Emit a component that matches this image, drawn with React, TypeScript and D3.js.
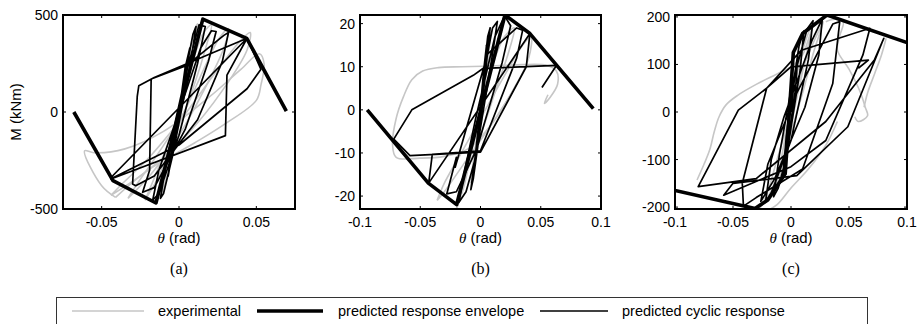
import React from 'react';
import * as d3 from 'd3';

type P = [number, number];

// ---------- axis data ----------
const panelLabels = ['(a)', '(b)', '(c)'];
const xDomainA = [-0.075, 0.075];
const xDomainB = [-0.1, 0.1];
const xDomainC = [-0.1, 0.1];
const yDomainA = [-500, 500];
const yDomainB = [-23, 22];
const yDomainC = [-204, 204];
const xTicksA = [-0.05, 0, 0.05];
const xTicksB = [-0.1, -0.05, 0, 0.05, 0.1];
const xTicksC = [-0.1, -0.05, 0, 0.05, 0.1];
const yTicksA = [-500, 0, 500];
const yTicksB = [-20, -10, 0, 10, 20];
const yTicksC = [-200, -100, 0, 100, 200];
const legendLabels = ['experimental', 'predicted response envelope', 'predicted cyclic response'];

// ---------- panel (a) ----------
const envA: P[] = [[-0.068, 0], [-0.0427, -354], [-0.0149, -469], [0.0154, 479], [0.0438, 380], [0.0694, 5]];
const cycA: P[] = [
  [0, 0], [0.004, 230], [0.007, 330], [0.005, 200], [-0.003, -150], [-0.007, -330], [-0.005, -200], [0.003, 150],
  [0.009, 400], [0.011, 440], [0.007, 230], [-0.004, -220], [-0.010, -420], [-0.012, -445], [-0.008, -250], [0.004, 180],
  [0.013, 450], [0.017, 440], [0.012, 250], [0.0, -120], [-0.013, -420], [-0.017, -455], [-0.013, -300], [0.0, 0],
  [0.014, 330], [0.021, 419], [0.024, 415], [0.019, 260], [0.004, -90], [-0.016, -390], [-0.0235, -414], [-0.019, -300], [-0.018, 170],
  [0.005, 240], [0.029, 395], [0.032, 410], [0.028, 260], [0.012, -40], [-0.016, -330], [-0.028, -380], [-0.030, -371], [-0.027, 80], [-0.026, 135], [-0.016, 178], [0.044, 380],
  [-0.043, -330], [-0.044, -345], [0.030, -122], [0.031, 190], [0.044, 380],
  [0.053, 220], [0.044, 120], [0.0, -170], [-0.043, -340],
];
const expA1: P[] = [[-0.012, -430], [-0.007, -280], [0.0, -20], [0.006, 260], [0.010, 420], [0.012, 455], [0.009, 330], [0.003, 90], [-0.004, -170], [-0.009, -370], [-0.012, -430]];
const expA2: P[] = [[-0.022, -455], [-0.017, -360], [-0.008, -180], [0.002, 60], [0.010, 290], [0.016, 410], [0.021, 450], [0.018, 350], [0.009, 120], [-0.003, -130], [-0.013, -330], [-0.022, -455]];
const expA3: P[] = [[-0.033, -445], [-0.027, -370], [-0.014, -220], [0.002, -20], [0.016, 220], [0.026, 380], [0.032, 430], [0.029, 330], [0.016, 110], [0.0, -120], [-0.018, -320], [-0.033, -445]];
const expA4: P[] = [[-0.044, -430], [-0.038, -380], [-0.02, -240], [0.004, -10], [0.026, 230], [0.040, 370], [0.046, 410], [0.044, 320], [0.028, 110], [0.006, -110], [-0.02, -300], [-0.044, -430]];
const expA5: P[] = [[-0.041, -440], [-0.05, -380], [-0.061, -200], [-0.055, -210], [-0.035, -190], [-0.01, -100], [0.02, 80], [0.04, 220], [0.052, 300], [0.055, 250], [0.053, 140], [0.050, 60], [0.03, -60], [0.01, -160], [-0.02, -300], [-0.041, -440]];

// ---------- panel (b) ----------
const envB: P[] = [[-0.094, 0], [-0.0433, -17], [-0.0198, -22], [0.0203, 22], [0.041, 17.7], [0.0936, 0.3]];
const cycB: P[] = [
  [0, 0], [0.003, 10], [0.005, 15], [0.003, 8], [-0.002, -6], [-0.004, -12], [-0.002, -5], [0.002, 7],
  [0.006, 17], [0.008, 19], [0.005, 11], [-0.002, -8], [-0.006, -16], [-0.008, -18.5], [-0.004, -10], [0.003, 9],
  [0.010, 19], [0.014, 20.5], [0.010, 13], [-0.004, -11], [-0.012, -19], [-0.018, -21.5], [-0.013, -14], [-0.004, -2],
  [0.012, 17], [0.020, 21.8], [0.025, 19.5], [0.018, 11], [-0.003, -9], [-0.020, -19], [-0.028, -19.5], [-0.020, -11], [-0.021, -13.3],
  [0.006, 13], [0.030, 19], [0.035, 18.5], [0.030, 12], [0.0, -9.5], [-0.040, -10.3], [-0.043, -17], [0.041, 17.7], [0.038, 10],
  [0.0, -9.8], [-0.0585, -10.6], [-0.072, -6.8], [-0.057, 0], [-0.006, 8], [0.002, 9.6], [0.063, 10.3], [0.051, 5.2],
];
const expB1: P[] = [[-0.008, -17], [-0.004, -8], [0.0, 0], [0.004, 9], [0.008, 16], [0.006, 11], [0.002, 3], [-0.002, -5], [-0.006, -12], [-0.008, -17]];
const expB2: P[] = [[-0.02, -23], [-0.014, -18], [-0.006, -8], [0.004, 4], [0.012, 12], [0.02, 17], [0.028, 19], [0.024, 14], [0.012, 4], [0.0, -6], [-0.012, -15], [-0.02, -23]];
const expB3: P[] = [[-0.036, -21], [-0.03, -17], [-0.018, -11], [0.0, -2], [0.02, 8], [0.035, 15], [0.042, 17], [0.04, 12], [0.028, 5], [0.01, -3], [-0.015, -13], [-0.03, -19], [-0.036, -21]];
const expB4: P[] = [[0.03, 6], [0.01, -3], [-0.01, -9], [-0.03, -10.8], [-0.05, -11.2], [-0.07, -11], [-0.073, -8], [-0.07, -2], [-0.064, 3], [-0.057, 7], [-0.048, 9], [-0.035, 9.8], [-0.015, 10], [0.01, 10.2], [0.035, 10.5], [0.055, 10.3], [0.063, 9], [0.064, 6], [0.058, 3], [0.053, 1.5], [0.056, 3.5]];

// ---------- panel (c) ----------
const envC: P[] = [[-0.1, -165], [-0.031, -203], [-0.02, -185], [-0.005, -130], [0.002, 125], [0.01, 165], [0.031, 204], [0.1, 146]];
const cycC: P[] = [
  [0, 0], [0.003, 70], [0.006, 125], [0.004, 50], [-0.003, -70], [-0.007, -135], [-0.004, -50], [0.002, 60],
  [0.007, 140], [0.011, 170], [0.008, 90], [-0.004, -95], [-0.011, -160], [-0.015, -178], [-0.010, -90], [0.001, 60],
  [0.014, 175], [0.019, 192], [0.015, 110], [0.0, -60], [-0.017, -170], [-0.022, -190], [-0.017, -100], [-0.006, -10],
  [0.018, 150], [0.027, 196], [0.024, 120], [0.012, 10], [-0.014, -140], [-0.026, -188], [-0.020, -110],
  [0.005, 40], [0.036, 185], [0.042, 190], [0.036, 60], [0.010, -120], [-0.030, -180], [-0.041, -198], [-0.042, -150], [-0.021, 50],
  [0.009, 130], [0.068, 176], [0.062, 120], [0.030, -60], [0.0, -115], [-0.058, -175], [-0.050, -150], [0.005, -134], [0.049, -31], [0.080, 155], [0.072, 110], [0.030, -20], [-0.030, -140],
  [-0.080, -157], [-0.0454, 4], [-0.021, 50], [0.0, 95], [0.0667, 109], [0.058, 92],
];
const expC1: P[] = [[-0.015, -180], [-0.01, -120], [-0.004, -40], [0.002, 40], [0.008, 110], [0.014, 160], [0.018, 180], [0.014, 130], [0.006, 40], [-0.002, -50], [-0.01, -140], [-0.015, -180]];
const expC2: P[] = [[-0.028, -205], [-0.022, -180], [-0.012, -100], [0.0, 0], [0.01, 90], [0.02, 150], [0.026, 180], [0.028, 190], [0.02, 130], [0.01, 40], [-0.005, -80], [-0.018, -170], [-0.028, -205]];
const expC3: P[] = [[-0.081, -143], [-0.075, -110], [-0.07, -79], [-0.066, -40], [-0.062, -10], [-0.056, 15], [-0.046, 35], [-0.03, 58], [-0.012, 80], [0.002, 98], [0.01, 120], [0.016, 160], [0.02, 185], [0.025, 190]];
const expC4: P[] = [[0.03, 190], [0.038, 195], [0.045, 190], [0.042, 160], [0.04, 130], [0.05, 90], [0.06, 40], [0.064, 10], [0.066, -8], [0.058, -20], [0.055, -10]];
const expC5: P[] = [[0.082, 155], [0.078, 120], [0.072, 80], [0.066, 40], [0.063, 10]];
const expC6: P[] = [[0.04, -20], [0.03, -70], [0.015, -120], [0.0, -160], [-0.012, -195], [-0.02, -207]];

const expA = [expA1, expA2, expA3, expA4, expA5];
const expB = [expB1, expB2, expB3, expB4];
const expC = [expC1, expC2, expC3, expC4, expC5, expC6];

// ---------- layout ----------
const W = 923;
const H = 324;
const TOP = 15;
const BOTTOM = 209;
const SANS = '"Liberation Sans", Arial, Helvetica, sans-serif';
const SERIF = '"Liberation Serif", "Times New Roman", serif';

const panels = [
  { xDomain: xDomainA, yDomain: yDomainA, xTicks: xTicksA, yTicks: yTicksA, exp: expA, cyc: cycA, env: envA, left: 63, right: 295, ylab: true },
  { xDomain: xDomainB, yDomain: yDomainB, xTicks: xTicksB, yTicks: yTicksB, exp: expB, cyc: cycB, env: envB, left: 360, right: 601, ylab: false },
  { xDomain: xDomainC, yDomain: yDomainC, xTicks: xTicksC, yTicks: yTicksC, exp: expC, cyc: cycC, env: envC, left: 675, right: 907, ylab: false },
];

function Panel({ cfg, idx }: { cfg: typeof panels[number]; idx: number }) {
  const x = d3.scaleLinear().domain(cfg.xDomain).range([cfg.left, cfg.right]);
  const y = d3.scaleLinear().domain(cfg.yDomain).range([BOTTOM, TOP]);
  const lin = d3.line<P>().x((d) => x(d[0])).y((d) => y(d[1]));
  const smooth = d3.line<P>().x((d) => x(d[0])).y((d) => y(d[1])).curve(d3.curveCatmullRom.alpha(0.5));
  const cid = `clip${idx}`;
  const tl = 3;
  const cx = (cfg.left + cfg.right) / 2;
  return (
    <g>
      <defs>
        <clipPath id={cid}>
          <rect x={cfg.left} y={TOP} width={cfg.right - cfg.left} height={BOTTOM - TOP} />
        </clipPath>
      </defs>
      <g clipPath={`url(#${cid})`}>
        {cfg.exp.map((l, i) => (
          <path key={i} d={smooth(l) || ''} fill="none" stroke="#c6c6c6" strokeWidth={1.6} strokeLinejoin="round" />
        ))}
        <path d={lin(cfg.cyc) || ''} fill="none" stroke="#000" strokeWidth={1.7} strokeLinejoin="round" />
        <path d={lin(cfg.env) || ''} fill="none" stroke="#000" strokeWidth={3.6} strokeLinejoin="round" />
      </g>
      <rect x={cfg.left} y={TOP} width={cfg.right - cfg.left} height={BOTTOM - TOP} fill="none" stroke="#000" strokeWidth={2} />
      {cfg.xTicks.map((t) => (
        <g key={'x' + t}>
          <line x1={x(t)} x2={x(t)} y1={BOTTOM} y2={BOTTOM - tl} stroke="#000" strokeWidth={1} />
          <line x1={x(t)} x2={x(t)} y1={TOP} y2={TOP + tl} stroke="#000" strokeWidth={1} />
          <text x={x(t)} y={227} textAnchor="middle" fontFamily={SANS} fontSize={14}>{String(t)}</text>
        </g>
      ))}
      {cfg.yTicks.map((t) => (
        <g key={'y' + t}>
          <line x1={cfg.left} x2={cfg.left + tl} y1={y(t)} y2={y(t)} stroke="#000" strokeWidth={1} />
          <line x1={cfg.right} x2={cfg.right - tl} y1={y(t)} y2={y(t)} stroke="#000" strokeWidth={1} />
          <text x={cfg.left - 5} y={y(t) + 5} textAnchor="end" fontFamily={SANS} fontSize={14}>{String(t)}</text>
        </g>
      ))}
      <text x={cx} y={243} textAnchor="middle" fontFamily={SANS} fontSize={15}>
        <tspan fontFamily={SERIF} fontStyle="italic">θ</tspan> (rad)
      </text>
      <text x={cx} y={274} textAnchor="middle" fontFamily={SERIF} fontSize={16}>{panelLabels[idx]}</text>
      {cfg.ylab && (
        <text transform={`translate(21,${(TOP + BOTTOM) / 2}) rotate(-90)`} textAnchor="middle" fontFamily={SANS} fontSize={15}>M (kNm)</text>
      )}
    </g>
  );
}

export default function App() {
  const ly = 311;
  return (
    <svg width={W} height={H} style={{ position: 'absolute', left: 0, top: 0, background: '#fff' }}>
      {panels.map((p, i) => (
        <Panel key={i} cfg={p} idx={i} />
      ))}
      <rect x={56.5} y={297.5} width={811} height={40} fill="none" stroke="#333" strokeWidth={1} />
      <line x1={72} x2={144} y1={ly} y2={ly} stroke="#c6c6c6" strokeWidth={1.6} />
      <text x={158} y={ly + 5} fontFamily={SANS} fontSize={14.5}>{legendLabels[0]}</text>
      <line x1={257} x2={323} y1={ly} y2={ly} stroke="#000" strokeWidth={3.6} />
      <text x={338} y={ly + 5} fontFamily={SANS} fontSize={14.5}>{legendLabels[1]}</text>
      <line x1={540} x2={608} y1={ly} y2={ly} stroke="#000" strokeWidth={1.7} />
      <text x={622} y={ly + 5} fontFamily={SANS} fontSize={14.5}>{legendLabels[2]}</text>
    </svg>
  );
}
